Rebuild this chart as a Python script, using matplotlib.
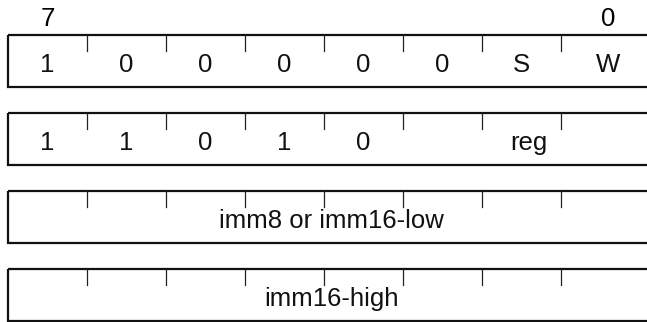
import matplotlib.pyplot as plt
from matplotlib.patches import Rectangle

plt.rcParams['font.family'] = ['Liberation Sans', 'DejaVu Sans']

# bit numbers printed above the first byte
bit_labels = ['7', '0']
# each row: list of (field label, width in bits)
row_fields = [
    [('1', 1), ('0', 1), ('0', 1), ('0', 1), ('0', 1), ('0', 1), ('S', 1), ('W', 1)],
    [('1', 1), ('1', 1), ('0', 1), ('1', 1), ('0', 1), ('reg', 3)],
    [('imm8 or imm16-low', 8)],
    [('imm16-high', 8)],
]

# layout (pixels)
W, H = 647, 322
x_left = 8
cell_w = 79
x_right = 655  # last cell runs past the cropped edge
row_top0 = 35
row_h = 52
row_gap = 26
tick_len = 16

edges = [x_left + i * cell_w for i in range(8)] + [x_right]

fig = plt.figure(figsize=(W / 100, H / 100), dpi=100)
fig.set_facecolor('w')
ax = fig.add_axes([0, 0, 1, 1])
ax.set_xlim(0, W)
ax.set_ylim(H, 0)
ax.axis('off')

# bit numbers over first and last cell
ax.text((edges[0] + edges[1]) / 2, 26, bit_labels[0], ha='center', va='baseline', fontsize=18.5)
ax.text((edges[7] + edges[8]) / 2, 26, bit_labels[1], ha='center', va='baseline', fontsize=18.5)

for r, fields in enumerate(row_fields):
    top = row_top0 + r * (row_h + row_gap)
    ax.add_patch(Rectangle((edges[0], top), edges[8] - edges[0], row_h,
                           fill=False, ec='#111111', lw=1.6, clip_on=False))
    # short ticks at every bit boundary
    for i in range(1, 8):
        ax.plot([edges[i], edges[i]], [top, top + tick_len], color='#222222', lw=0.9)
    b = 0
    for label, width in fields:
        cx = (edges[b] + edges[b + width]) / 2
        ax.text(cx, top + 37, label, ha='center', va='baseline', fontsize=18.5, color='#111111')
        b += width

fig.savefig('out.png', dpi=100, facecolor='w')
